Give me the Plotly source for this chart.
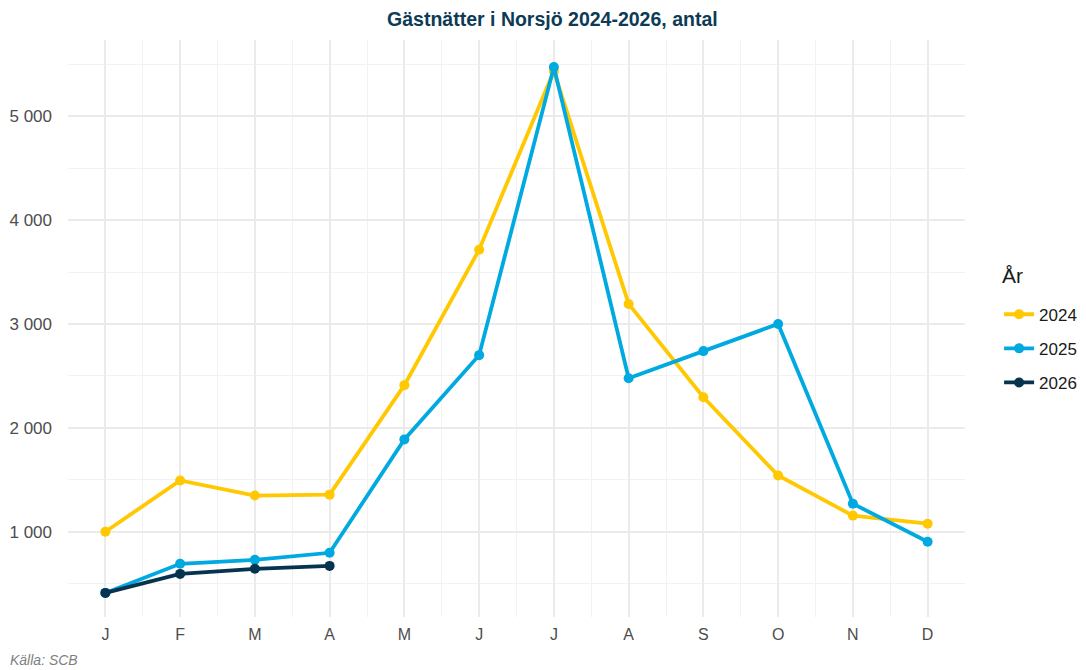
import plotly.graph_objects as go

months = ["J", "F", "M", "A", "M", "J", "J", "A", "S", "O", "N", "D"]
years = ["2024", "2025", "2026"]
v2024 = [1000, 1493, 1348, 1357, 2411, 3715, 5435, 3193, 2295, 1541, 1155, 1077]
v2025 = [411, 691, 729, 797, 1889, 2700, 5473, 2478, 2739, 3000, 1270, 903]
v2026 = [411, 594, 643, 671]
colors = ["#FFC800", "#00A9E0", "#06334D"]
y_ticks = [1000, 2000, 3000, 4000, 5000]
y_labels = ["1 000", "2 000", "3 000", "4 000", "5 000"]

fig = go.Figure()
for name, vals, col in zip(years, [v2024, v2025, v2026], colors):
    fig.add_trace(go.Scatter(
        x=list(range(1, len(vals) + 1)), y=vals, name=name, mode="lines+markers",
        legendgroup=name,
        line=dict(color=col, width=3.8), marker=dict(color=col, size=10),
    ))

fig.update_layout(
    width=1078, height=662,
    paper_bgcolor="white", plot_bgcolor="white",
    margin=dict(l=60, r=121, t=32, b=53, autoexpand=False),
    font=dict(family="Liberation Sans, Arial, sans-serif", color="#4D4D4D"),
    title=dict(text="<b>Gästnätter i Norsjö 2024-2026, antal</b>", x=0.505, xref="container",
               xanchor="center", y=0.993, yanchor="top",
               font=dict(size=19.5, color="#0D3B55")),
    legend=dict(font=dict(size=17, color="#1a1a1a"),
                x=1.038, xanchor="left", y=0.465, yanchor="middle", tracegroupgap=9),
    showlegend=True,
)
fig.update_xaxes(
    range=[0.5, 12.5], tickvals=list(range(1, 13)), ticktext=months,
    showgrid=True, gridcolor="#EBEBEB", gridwidth=1.6, zeroline=False,
    showline=False, ticks="", tickfont=dict(size=16, color="#4D4D4D"),
    ticklabelstandoff=6,
    minor=dict(tick0=0.5, dtick=1, showgrid=True, gridcolor="#F2F2F2", gridwidth=0.8),
)
fig.update_yaxes(
    range=[179, 5734], tickvals=y_ticks, ticktext=y_labels,
    showgrid=True, gridcolor="#EBEBEB", gridwidth=1.6, zeroline=False,
    showline=False, ticks="", tickfont=dict(size=17, color="#4D4D4D"),
    ticklabelstandoff=15,
    minor=dict(tickvals=[500, 1500, 2500, 3500, 4500, 5500], showgrid=True,
               gridcolor="#F2F2F2", gridwidth=0.8),
)
fig.add_annotation(text="År", xref="paper", yref="paper",
                   x=1.039, y=0.591, xanchor="left", yanchor="middle", showarrow=False,
                   font=dict(size=21, color="#1a1a1a"))
fig.add_annotation(text="<i>Källa: SCB</i>", xref="paper", yref="paper",
                   x=-0.067, y=-0.058, xanchor="left", yanchor="top", showarrow=False,
                   font=dict(size=14, color="#7F7F7F"))

fig.write_html("out.html")
